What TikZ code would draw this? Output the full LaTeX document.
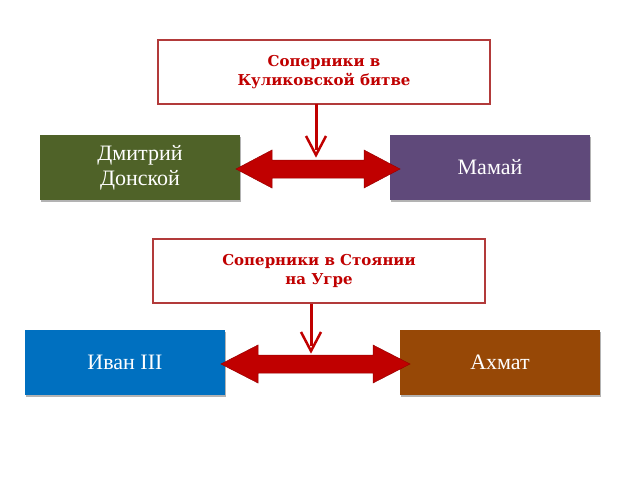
\documentclass[tikz,border=0pt]{standalone}
\usepackage{fontspec}
\setmainfont{DejaVu Serif}
\newfontfamily\bodyfont{Liberation Serif}
\usetikzlibrary{shadows}
\definecolor{darkred}{HTML}{C00000}
\definecolor{bord}{HTML}{B23A3A}
\tikzset{
  titlebox/.style={draw=bord,line width=1.3pt,fill=white,minimum width=332pt,minimum height=64pt,align=center,font=\bfseries\fontsize{15}{19}\selectfont,text=darkred,inner sep=2pt},
  person/.style={minimum width=200pt,minimum height=65pt,align=center,text=white,font=\bodyfont\fontsize{22}{25}\selectfont,drop shadow={shadow xshift=1pt,shadow yshift=-1.5pt,opacity=0.6}},
  dbl/.style={fill=darkred,draw=darkred!80!black,line width=0.5pt},
  vline/.style={draw=darkred,line width=3pt},
  vhead/.style={draw=darkred,line width=2.5pt,fill=none}
}
\begin{document}
\begin{tikzpicture}[x=1pt,y=-1pt]
\useasboundingbox (0,0) rectangle (640,480);
\node[titlebox] (t1) at (324,72) {Соперники в\\Куликовской битве};
\node[person,fill={rgb,255:red,79;green,98;blue,40}] (dd) at (140,167.5) {Дмитрий\\Донской};
\node[person,fill={rgb,255:red,95;green,73;blue,122}] (mm) at (490,167.5) {Мамай};
\draw[dbl] (236,169) -- (272,150) -- (272,160) -- (364,160) -- (364,150) -- (400,169) -- (364,188) -- (364,178) -- (272,178) -- (272,188) -- cycle;
\coordinate (a1) at (316,155);
\draw[vline] (316,104) -- (316,150);
\draw[vhead] (306,136) -- (a1) -- (326,136);

\node[titlebox] (t2) at (319,271) {Соперники в Стоянии\\на Угре};
\node[person,fill={rgb,255:red,0;green,112;blue,192}] (iv) at (125,362.5) {Иван III};
\node[person,fill={rgb,255:red,151;green,72;blue,6}] (ah) at (500,362.5) {Ахмат};
\draw[dbl] (221,364) -- (258,345) -- (258,355) -- (373,355) -- (373,345) -- (410,364) -- (373,383) -- (373,373) -- (258,373) -- (258,383) -- cycle;
\coordinate (a2) at (311,351);
\draw[vline] (311,304) -- (311,346);
\draw[vhead] (301,332) -- (a2) -- (321,332);
\end{tikzpicture}
\end{document}
